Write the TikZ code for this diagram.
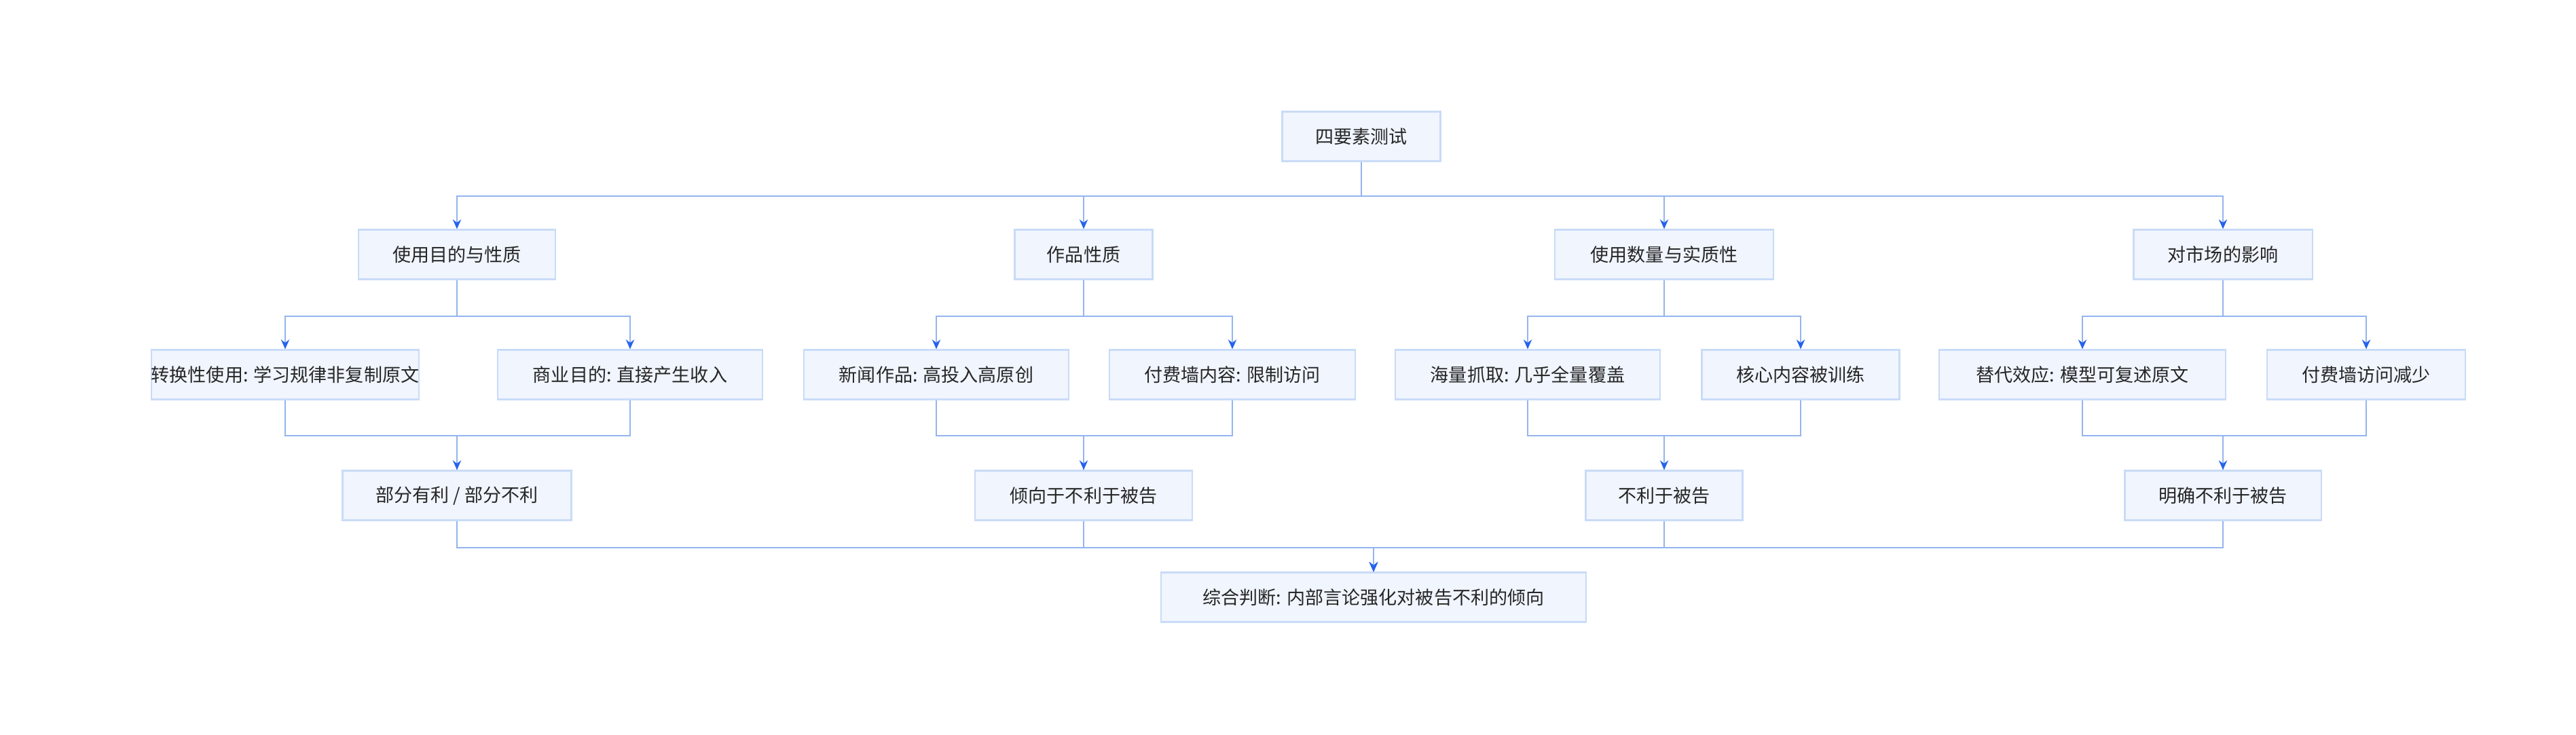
\documentclass[tikz,border=0pt]{standalone}
\usepackage{fontspec}
\newfontfamily\cjk{Noto Sans CJK SC}
\usetikzlibrary{arrows.meta}
\definecolor{boxfill}{HTML}{F0F5FE}
\definecolor{boxline}{HTML}{C9DBF7}
\definecolor{wire}{HTML}{93B4F0}
\definecolor{tip}{HTML}{2563EB}
\tikzset{
  box/.style={draw=boxline, fill=boxfill, line width=0.6pt, minimum height=0.73cm,
    inner xsep=0pt, font=\cjk\fontsize{7.7}{9}\selectfont, text=black!85},
  link/.style={draw=wire, line width=0.6pt},
  arr/.style={link, -{Stealth[length=4pt,width=3.5pt,color=tip]}}
}
\begin{document}
\begin{tikzpicture}
\useasboundingbox (0,0) rectangle (37.94,-10.82);
% top
\node[box, minimum width=2.33cm] (top) at (20.05,-2.01) {四要素测试};
% factors
\node[box, minimum width=2.90cm] (f1) at (6.73,-3.75) {使用目的与性质};
\node[box, minimum width=2.03cm] (f2) at (15.96,-3.75) {作品性质};
\node[box, minimum width=3.22cm] (f3) at (24.51,-3.75) {使用数量与实质性};
\node[box, minimum width=2.63cm] (f4) at (32.74,-3.75) {对市场的影响};
% details
\node[box, minimum width=3.90cm] (d1) at (4.20,-5.52) {转换性使用: 学习规律非复制原文};
\node[box, minimum width=3.90cm] (d2) at (9.28,-5.52) {商业目的: 直接产生收入};
\node[box, minimum width=3.90cm] (d3) at (13.79,-5.52) {新闻作品: 高投入高原创};
\node[box, minimum width=3.62cm] (d4) at (18.15,-5.52) {付费墙内容: 限制访问};
\node[box, minimum width=3.90cm] (d5) at (22.50,-5.52) {海量抓取: 几乎全量覆盖};
\node[box, minimum width=2.91cm] (d6) at (26.52,-5.52) {核心内容被训练};
\node[box, minimum width=4.22cm] (d7) at (30.67,-5.52) {替代效应: 模型可复述原文};
\node[box, minimum width=2.92cm] (d8) at (34.85,-5.52) {付费墙访问减少};
% results
\node[box, minimum width=3.37cm] (r1) at (6.73,-7.30) {部分有利 / 部分不利};
\node[box, minimum width=3.20cm] (r2) at (15.96,-7.30) {倾向于不利于被告};
\node[box, minimum width=2.31cm] (r3) at (24.51,-7.30) {不利于被告};
\node[box, minimum width=2.89cm] (r4) at (32.74,-7.30) {明确不利于被告};
% final
\node[box, minimum width=6.26cm] (fin) at (20.23,-8.80) {综合判断: 内部言论强化对被告不利的倾向};
% wiring
\foreach \f in {f1,f2,f3,f4}
  \draw[arr] (top.south) -- ++(0,-0.50) -| (\f.north);
\foreach \f/\a/\b/\r in {f1/d1/d2/r1, f2/d3/d4/r2, f3/d5/d6/r3, f4/d7/d8/r4} {
  \draw[arr] (\f.south) -- ++(0,-0.53) -| (\a.north);
  \draw[arr] (\f.south) -- ++(0,-0.53) -| (\b.north);
  \draw[link] (\a.south) -- ++(0,-0.52) -| (\r.north);
  \draw[arr] (\b.south) -- ++(0,-0.52) -| (\r.north);
}
\foreach \r in {r1,r2,r3,r4}
  \draw[arr] (\r.south) -- ++(0,-0.39) -| (fin.north);
\end{tikzpicture}
\end{document}
